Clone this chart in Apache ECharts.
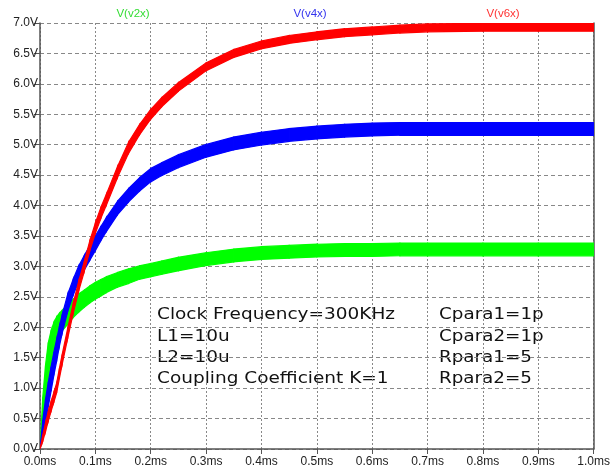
<!DOCTYPE html>
<html>
<head>
<meta charset="utf-8">
<script src="https://cdn.jsdelivr.net/npm/echarts@6/dist/echarts.min.js"></script>
<style>html,body{margin:0;padding:0;background:#fff}#c{width:613px;height:473px}</style>
</head>
<body>
<div id="c"></div>
<script>
// time (ms)
const times = [0, 0.005, 0.01, 0.015, 0.02, 0.025, 0.03, 0.035, 0.04, 0.05, 0.06, 0.07, 0.08, 0.09, 0.1, 0.11, 0.12, 0.14, 0.16, 0.18, 0.2, 0.22, 0.25, 0.3, 0.35, 0.4, 0.45, 0.5, 0.55, 0.6, 0.65, 0.7, 0.8, 0.9, 1.0];
// band centre values (V) and ripple half-amplitude (V)
const v2x = [0, 0.55, 1.05, 1.45, 1.68, 1.85, 1.97, 2.05, 2.11, 2.21, 2.31, 2.4, 2.47, 2.54, 2.6, 2.65, 2.7, 2.78, 2.84, 2.9, 2.94, 2.98, 3.04, 3.12, 3.18, 3.22, 3.24, 3.26, 3.27, 3.27, 3.28, 3.28, 3.28, 3.28, 3.28];
const v2xRipple = [0, 0.3, 0.33, 0.3, 0.26, 0.23, 0.2, 0.18, 0.17, 0.16, 0.15, 0.15, 0.14, 0.14, 0.14, 0.135, 0.13, 0.12, 0.12, 0.11, 0.11, 0.11, 0.11, 0.105, 0.105, 0.105, 0.105, 0.105, 0.105, 0.105, 0.105, 0.105, 0.105, 0.105, 0.105];
const v4x = [0, 0.32, 0.62, 0.9, 1.15, 1.4, 1.62, 1.85, 2.05, 2.4, 2.66, 2.88, 3.06, 3.22, 3.38, 3.54, 3.69, 3.96, 4.17, 4.35, 4.5, 4.6, 4.73, 4.9, 5.02, 5.1, 5.16, 5.2, 5.23, 5.25, 5.26, 5.26, 5.26, 5.26, 5.26];
const v4xRipple = [0, 0.15, 0.2, 0.2, 0.2, 0.19, 0.18, 0.16, 0.15, 0.14, 0.13, 0.13, 0.12, 0.12, 0.12, 0.115, 0.115, 0.11, 0.11, 0.11, 0.11, 0.105, 0.105, 0.105, 0.105, 0.105, 0.105, 0.105, 0.105, 0.105, 0.105, 0.105, 0.105, 0.105, 0.105];
const v6x = [0, 0.18, 0.36, 0.54, 0.7, 0.85, 1.0, 1.24, 1.47, 1.9, 2.31, 2.68, 3.0, 3.34, 3.63, 3.88, 4.1, 4.55, 4.95, 5.25, 5.5, 5.7, 5.95, 6.28, 6.5, 6.64, 6.73, 6.79, 6.84, 6.87, 6.9, 6.92, 6.93, 6.93, 6.93];
const v6xRipple = [0, 0.05, 0.07, 0.08, 0.08, 0.08, 0.08, 0.08, 0.08, 0.08, 0.08, 0.08, 0.08, 0.08, 0.085, 0.09, 0.09, 0.09, 0.09, 0.085, 0.08, 0.075, 0.07, 0.065, 0.065, 0.065, 0.065, 0.065, 0.065, 0.065, 0.065, 0.065, 0.065, 0.065, 0.065];

const traceNames = ['V(v2x)', 'V(v4x)', 'V(v6x)'];
const annotLeft = ['Clock Frequency=300KHz', 'L1=10u', 'L2=10u', 'Coupling Coefficient K=1'];
const annotRight = ['Cpara1=1p', 'Cpara2=1p', 'Rpara1=5', 'Rpara2=5'];

const colors = ['#00ff00', '#0000ff', '#ff0000'];
const labelColors = ['#33dd33', '#3333ee', '#ff3333'];

// each data item: a segment [t0, lo0, hi0, t1, lo1, hi1]
function band(idx, center, ripple) {
  const data = [];
  for (let i = 0; i < times.length - 1; i++) {
    data.push([times[i], center[i] - ripple[i], center[i] + ripple[i],
               times[i + 1], center[i + 1] - ripple[i + 1], center[i + 1] + ripple[i + 1]]);
  }
  const c = colors[idx];
  return {
    type: 'custom', name: traceNames[idx], data: data, silent: true, z: 3 + idx,
    encode: { x: [0, 3], y: [1, 2, 4, 5] },
    renderItem: function (params, api) {
      const a = api.coord([api.value(0), api.value(1)]);
      const b = api.coord([api.value(0), api.value(2)]);
      const d = api.coord([api.value(3), api.value(5)]);
      const e = api.coord([api.value(3), api.value(4)]);
      return {
        type: 'polygon',
        shape: { points: [a, b, d, e] },
        style: { fill: c, stroke: c, lineWidth: 1.2 }
      };
    },
    clip: true
  };
}

const chart = echarts.init(document.getElementById('c'), null, { renderer: 'canvas' });
const labelFont = { fontFamily: 'Liberation Sans, Arial, sans-serif', fontSize: 12, color: '#222' };

const annotFont = '16.5px "DejaVu Sans", sans-serif';
const graphics = [];
const titleX = [133, 310, 503];
traceNames.forEach((n, i) => graphics.push({
  type: 'text', x: titleX[i], y: 14,
  style: { text: n, fill: labelColors[i], font: '11.5px "Liberation Sans", Arial, sans-serif',
           textAlign: 'center', textVerticalAlign: 'middle' }
}));
const lineYs = [315, 337, 358, 379];
annotLeft.forEach((s, i) => graphics.push({ type: 'text', x: 157, y: lineYs[i], scaleX: 1.12,
  style: { text: s, fill: '#111', font: annotFont, textVerticalAlign: 'middle' } }));
annotRight.forEach((s, i) => graphics.push({ type: 'text', x: 439, y: lineYs[i], scaleX: 1.11,
  style: { text: s, fill: '#111', font: annotFont, textVerticalAlign: 'middle' } }));

chart.setOption({
  animation: false,
  backgroundColor: '#fff',
  grid: { left: 40, right: 16, top: 23, bottom: 24 },
  xAxis: {
    type: 'value', min: 0, max: 1, interval: 0.1,
    axisLine: { show: true, onZero: false, lineStyle: { color: '#555', width: 1.5 } },
    axisTick: { show: true, length: 5, lineStyle: { color: '#555' } },
    axisLabel: Object.assign({ margin: 7, formatter: v => v.toFixed(1) + 'ms' }, labelFont),
    splitLine: { show: true, lineStyle: { color: '#888', type: [2, 2], width: 1 } }
  },
  yAxis: [{
    type: 'value', min: 0, max: 7, interval: 0.5,
    axisLine: { show: true, onZero: false, lineStyle: { color: '#555', width: 1.5 } },
    axisTick: { show: true, length: 6, lineStyle: { color: '#555' } },
    axisLabel: Object.assign({ margin: 2, formatter: v => v.toFixed(1) + 'V' }, labelFont),
    splitLine: { show: true, lineStyle: { color: '#888', type: [4, 3], width: 1 } }
  }, {
    type: 'value', min: 0, max: 7, interval: 0.5, position: 'right',
    axisLine: { show: true, onZero: false, lineStyle: { color: '#555', width: 1.5 } },
    axisTick: { show: false }, axisLabel: { show: false }, splitLine: { show: false }
  }],
  series: [band(0, v2x, v2xRipple), band(1, v4x, v4xRipple), band(2, v6x, v6xRipple)],
  graphic: graphics
});
</script>
</body>
</html>
